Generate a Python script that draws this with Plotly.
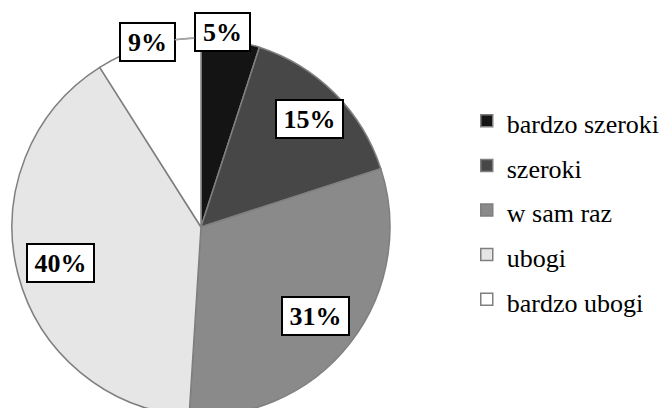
import math
import plotly.graph_objects as go

labels = ["bardzo szeroki", "szeroki", "w sam raz", "ubogi", "bardzo ubogi"]
values = [5, 15, 31, 40, 9]
colors = ["#141414", "#474747", "#8a8a8a", "#e6e6e6", "#ffffff"]

W, H = 663, 416          # figure is slightly taller than the window: the pie is cut at the bottom
MT = 38
PLOT_H = H - MT
R = PLOT_H / 2.0
CX, CY = 201.0, MT + R
FONT = "Times New Roman, Liberation Serif, serif"

# label placement: radial factor and position within the slice (0..1)
label_r = [1.04, 0.81, 0.77, 0.77, 1.02]
label_f = [0.35, 0.5, 0.5, 0.5, 0.5]

# legend text drawn at 26px, rows spaced as for a larger font
legend_labels = ['<span style="font-size:26px">%s</span>' % s for s in labels]


def to_paper(px, py):
    return px / W, 1 - (py - MT) / PLOT_H


fig = go.Figure(
    go.Pie(
        labels=legend_labels,
        values=values,
        sort=False,
        direction="clockwise",
        rotation=0,
        textinfo="none",
        hoverinfo="label+percent",
        marker=dict(colors=colors, line=dict(color="#7f7f7f", width=1.5)),
        domain=dict(x=[0, 2 * CX / W], y=[0, 1]),
    )
)

total = sum(values)
cum = 0
annotations = []
for i, v in enumerate(values):
    start = cum / total * 360
    cum += v
    end = cum / total * 360
    ang = math.radians(start + label_f[i] * (end - start))
    lx = CX + label_r[i] * R * math.sin(ang)
    ly = CY - label_r[i] * R * math.cos(ang)
    text = "<b>%d%%</b>" % round(v / total * 100)
    base = dict(
        text=text,
        font=dict(family=FONT, size=26, color="black"),
        bgcolor="white",
        bordercolor="black",
        borderwidth=2,
        borderpad=2,
        width=61 if v >= 10 else 49,
        height=32,
        xref="paper",
        yref="paper",
    )
    if label_r[i] > 1 and i == len(values) - 1:
        # leader line to the slice edge near its end
        ea = math.radians(end - 2)
        ex, ey = CX + R * math.sin(ea), CY - R * math.cos(ea)
        px, py = to_paper(ex, ey)
        base.update(x=px, y=py, showarrow=True, arrowhead=0, arrowwidth=1.5,
                    arrowcolor="#a6a6a6", ax=lx - ex, ay=ly - ey)
    else:
        px, py = to_paper(lx, ly)
        base.update(x=px, y=py, showarrow=False, xanchor="center", yanchor="middle")
    annotations.append(base)

fig.update_layout(
    width=W,
    height=H,
    margin=dict(l=0, r=0, t=MT, b=0, autoexpand=False),
    paper_bgcolor="white",
    plot_bgcolor="white",
    annotations=annotations,
    showlegend=True,
    legend=dict(
        x=0.704,
        y=0.545,
        xanchor="left",
        yanchor="middle",
        font=dict(family=FONT, size=32, color="black"),
        bgcolor="rgba(0,0,0,0)",
    ),
)

fig.write_html(
    "out.html",
    config={"displayModeBar": False},
    post_script="document.body.style.margin='0px';document.body.style.overflow='hidden';",
)
